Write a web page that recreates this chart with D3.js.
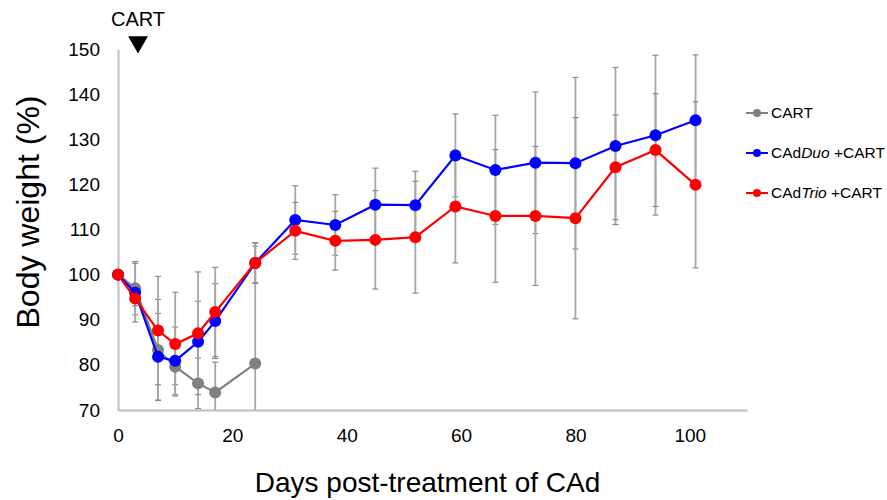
<!DOCTYPE html>
<html><head><meta charset="utf-8">
<script src="https://cdn.jsdelivr.net/npm/d3@7"></script>
<style>body{margin:0;background:#fff;} svg{display:block;font-family:"Liberation Sans",Arial,sans-serif;}</style>
</head><body><svg id="c" width="887" height="500"></svg>
<script>
const days      = [0, 3, 7, 10, 14, 17, 24, 31, 38, 45, 52, 59, 66, 73, 80, 87, 94, 101];
const cartVals  = [100, 97.0, 83.3, 79.6, 75.9, 73.9, 80.3];
const cartErr   = [0, 5.9, 11.2, 4.0, 5.6, 6.7, 26];
const duoVals   = [100, 96.0, 81.8, 80.9, 85.1, 89.7, 102.6, 112.1, 111.0, 115.5, 115.4, 126.4, 123.2, 124.8, 124.7, 128.5, 130.9, 134.2];
const duoErr    = [0, 6.5, 9.6, 7.5, 9.0, 8.3, 4.5, 7.6, 6.7, 8.1, 7.5, 9.2, 12.1, 15.7, 19.0, 17.4, 17.7, 14.5];
const trioVals  = [100, 94.7, 87.6, 84.6, 87.0, 91.7, 102.6, 109.7, 107.5, 107.7, 108.3, 115.1, 113.0, 113.0, 112.5, 123.8, 127.6, 119.9];
const trioErr   = [0, 1.6, 12.0, 11.5, 13.6, 9.9, 4.4, 6.3, 6.5, 10.9, 12.4, 12.5, 14.7, 15.4, 22.3, 11.6, 12.5, 18.4];
const xTicks = [0, 20, 40, 60, 80, 100];
const yTicks = [70, 80, 90, 100, 110, 120, 130, 140, 150];
const cartDay = 3.5;

const series = [
  {name: ["CART"], vals: cartVals, err: cartErr, color: "#808080"},
  {name: ["CAd", "Duo", " +CART"], vals: duoVals, err: duoErr, color: "#0000ff"},
  {name: ["CAd", "Trio", " +CART"], vals: trioVals, err: trioErr, color: "#ff0000"}
];

const svg = d3.select("#c");
const x = d3.scaleLinear().domain([0, 110]).range([118, 747]);
const y = d3.scaleLinear().domain([70, 150]).range([410, 49]);

// axes
const xa = svg.append("g").attr("transform", `translate(0,${y(70)})`)
  .call(d3.axisBottom(x).tickValues(xTicks).tickSize(0).tickPadding(19));
xa.select(".domain").attr("stroke", "#bfbfbf").attr("stroke-width", 2);
xa.selectAll("text").attr("font-size", 19).attr("fill", "#000").attr("font-family", "Liberation Sans, Arial");
const ya = svg.append("g").attr("transform", `translate(${x(0)},0)`)
  .call(d3.axisLeft(y).tickValues(yTicks).tickSize(0).tickPadding(18));
ya.select(".domain").attr("stroke", "#bfbfbf").attr("stroke-width", 2);
ya.selectAll("text").attr("font-size", 19).attr("fill", "#000").attr("font-family", "Liberation Sans, Arial");

// error bars
const clip = v => Math.max(70, Math.min(150, v));
series.forEach(s => {
  s.vals.forEach((v, i) => {
    const e = s.err[i];
    if (!e) return;
    const d = days[i];
    const hi = v + e, lo = v - e;
    svg.append("line").attr("x1", x(d)).attr("x2", x(d)).attr("y1", y(clip(hi))).attr("y2", y(clip(lo)))
      .attr("stroke", "#a6a6a6").attr("stroke-width", 1.8);
    [hi, lo].forEach(b => {
      if (b > 150 || b < 70) return;
      svg.append("line").attr("x1", x(d) - 3).attr("x2", x(d) + 3).attr("y1", y(b)).attr("y2", y(b))
        .attr("stroke", "#8c8c8c").attr("stroke-width", 1.2);
    });
  });
});

// lines and markers
const line = d3.line().x(d => x(d[0])).y(d => y(d[1]));
series.forEach(s => {
  const pts = s.vals.map((v, i) => [days[i], v]);
  svg.append("path").attr("d", line(pts)).attr("fill", "none").attr("stroke", s.color).attr("stroke-width", 2.2);
  svg.selectAll(null).data(pts).enter().append("circle")
    .attr("cx", d => x(d[0])).attr("cy", d => y(d[1])).attr("r", 6).attr("fill", s.color);
});

// legend
const leg = svg.append("g");
series.forEach((s, i) => {
  const ly = 113 + i * 40;
  leg.append("line").attr("x1", 746).attr("x2", 768).attr("y1", ly).attr("y2", ly).attr("stroke", s.color).attr("stroke-width", 2);
  leg.append("circle").attr("cx", 757).attr("cy", ly).attr("r", 4).attr("fill", s.color);
  const t = leg.append("text").attr("x", 771).attr("y", ly + 5).attr("font-size", 15.5).attr("fill", "#000");
  s.name.forEach((part, j) => {
    t.append("tspan").text(part).attr("font-style", j === 1 ? "italic" : "normal");
  });
});

// CART annotation
svg.append("text").attr("x", x(cartDay)).attr("y", 26).attr("text-anchor", "middle").attr("font-size", 20).text("CART");
svg.append("path").attr("d", d3.symbol().type(d3.symbolTriangle).size(170)())
  .attr("transform", `translate(${x(cartDay)},42) rotate(180)`).attr("fill", "#000");

// axis titles
svg.append("text").attr("x", (x(0) + x(110)) / 2 - 5).attr("y", 492).attr("text-anchor", "middle")
  .attr("font-size", 28).text("Days post-treatment of CAd");
svg.append("text").attr("transform", `translate(39,212) rotate(-90)`)
  .attr("text-anchor", "middle").attr("font-size", 32).text("Body weight (%)");
</script></body></html>
